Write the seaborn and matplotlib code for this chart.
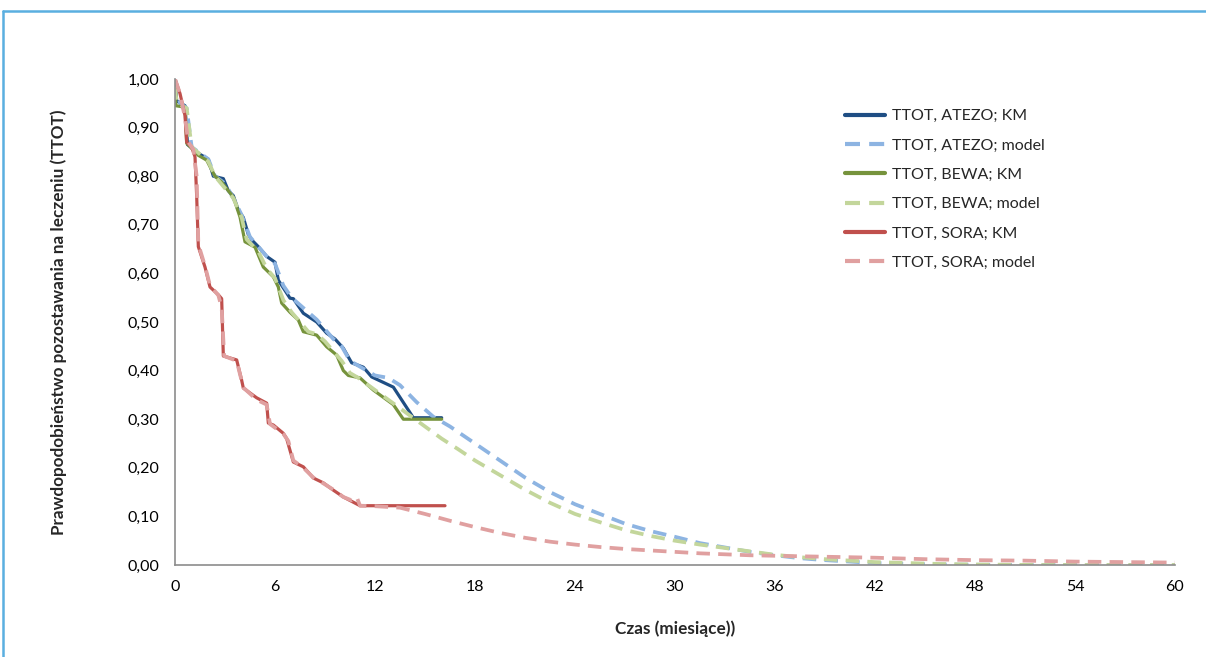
import matplotlib
matplotlib.use("Agg")
import matplotlib.pyplot as plt
from matplotlib.lines import Line2D
import seaborn as sns

# --- DATA ---
# months, probability of remaining on treatment

atezo_km_t = [0, 0.1, 0.6, 0.75, 1.5, 2.0, 2.3, 2.9, 3.2, 3.5, 3.8, 4.1, 4.4, 4.6, 5.0, 5.5,
              6.0, 6.2, 6.9, 7.1, 7.7, 8.5, 9.1, 9.6, 10.1, 10.6, 11.3, 11.8, 13.1, 13.5,
              14.3, 16.0]
atezo_km_s = [1.0, 0.955, 0.945, 0.865, 0.845, 0.835, 0.80, 0.795, 0.77, 0.76, 0.73, 0.715,
              0.68, 0.669, 0.655, 0.635, 0.623, 0.586, 0.549, 0.548, 0.518, 0.50, 0.477,
              0.465, 0.446, 0.416, 0.407, 0.387, 0.366, 0.345, 0.303, 0.303]

atezo_model_t = [0, 0.3, 0.7, 1.0, 2.0, 2.4, 3.0, 3.5, 4.0, 4.5, 5.0, 5.5, 6.0, 6.5, 7.0, 7.5,
                 8.0, 8.5, 9.0, 9.5, 10.0, 10.5, 11.0, 11.5, 12.0, 12.8, 13.5, 14.5, 15.5,
                 16.5, 18, 19.5, 21, 22.5, 24, 25.5, 27, 28.5, 30, 31.5, 33, 34.5, 36, 37.5,
                 39, 40.5, 42, 44, 46, 48, 52, 56, 60]
atezo_model_s = [1.0, 0.95, 0.94, 0.86, 0.835, 0.80, 0.785, 0.755, 0.72, 0.675, 0.655, 0.635,
                 0.62, 0.575, 0.55, 0.535, 0.52, 0.505, 0.485, 0.465, 0.45, 0.42, 0.41, 0.40,
                 0.39, 0.385, 0.37, 0.335, 0.305, 0.285, 0.25, 0.215, 0.18, 0.15, 0.125,
                 0.105, 0.085, 0.07, 0.058, 0.045, 0.036, 0.027, 0.02, 0.014, 0.01, 0.007,
                 0.004, 0.002, 0.001, 0.0005, 0.0, 0.0, 0.0]

bewa_km_t = [0, 0.05, 0.6, 0.7, 1.4, 1.9, 2.4, 2.8, 3.2, 3.5, 3.9, 4.2, 4.8, 5.3, 5.9, 6.2,
             6.4, 6.9, 7.4, 7.7, 8.5, 9.1, 9.7, 10.1, 10.4, 11.1, 11.9, 13.1, 13.7, 16.0]
bewa_km_s = [0.985, 0.945, 0.942, 0.868, 0.843, 0.833, 0.80, 0.788, 0.77, 0.757, 0.716,
             0.665, 0.654, 0.613, 0.593, 0.572, 0.539, 0.52, 0.504, 0.48, 0.473, 0.449,
             0.432, 0.40, 0.39, 0.385, 0.36, 0.33, 0.30, 0.30]

bewa_model_t = [0, 0.1, 0.7, 1.0, 2.0, 2.4, 3.0, 3.5, 4.0, 4.3, 5.0, 5.5, 6.0, 6.5, 7.0, 7.5,
                8.0, 8.5, 9.0, 9.5, 10.0, 10.5, 11.0, 12.0, 13.0, 14.0, 15.0, 16.0, 17.0,
                18.0, 19.5, 21, 22.5, 24, 25.5, 27, 28.5, 30, 31.5, 33, 34.5, 36, 37.5, 39,
                40.5, 42, 44, 46, 48, 52, 60]
bewa_model_s = [0.985, 0.95, 0.94, 0.86, 0.83, 0.80, 0.775, 0.755, 0.715, 0.67, 0.645, 0.61,
                0.59, 0.545, 0.52, 0.50, 0.48, 0.475, 0.46, 0.44, 0.42, 0.395, 0.385, 0.36,
                0.335, 0.31, 0.285, 0.26, 0.238, 0.215, 0.185, 0.155, 0.128, 0.105, 0.088,
                0.072, 0.06, 0.05, 0.042, 0.035, 0.028, 0.021, 0.016, 0.012, 0.009, 0.006,
                0.004, 0.002, 0.001, 0.0, 0.0]

sora_km_t = [0, 0.3, 0.6, 0.7, 1.0, 1.2, 1.3, 1.4, 1.8, 2.1, 2.6, 2.8, 2.9, 3.7, 4.0, 4.1,
             4.9, 5.5, 5.6, 5.9, 6.5, 6.7, 7.1, 7.7, 8.3, 8.9, 9.5, 10.1, 11.1, 16.2]
sora_km_s = [1.0, 0.97, 0.925, 0.87, 0.86, 0.84, 0.76, 0.655, 0.613, 0.572, 0.556, 0.548,
             0.43, 0.422, 0.38, 0.364, 0.344, 0.333, 0.292, 0.288, 0.271, 0.26, 0.212,
             0.202, 0.179, 0.169, 0.154, 0.14, 0.122, 0.122]

sora_model_t = [0, 0.3, 0.6, 0.8, 1.1, 1.3, 1.4, 1.8, 2.1, 2.6, 2.8, 2.95, 3.7, 4.1, 4.9, 5.5,
                5.7, 6.5, 6.8, 7.1, 7.7, 8.3, 8.9, 9.5, 10.1, 10.6, 10.9, 11.1, 12, 13.5, 15,
                16.5, 18, 19.5, 21, 22.5, 24, 25.5, 27, 28.5, 30, 31.5, 33, 34.5, 36, 39, 42,
                45, 48, 51, 54, 57, 60]
sora_model_s = [1.0, 0.97, 0.92, 0.87, 0.855, 0.80, 0.66, 0.615, 0.575, 0.555, 0.53, 0.43,
                0.42, 0.365, 0.34, 0.33, 0.29, 0.27, 0.255, 0.215, 0.20, 0.18, 0.168, 0.155,
                0.14, 0.133, 0.14, 0.122, 0.121, 0.118, 0.105, 0.091, 0.078, 0.066, 0.056,
                0.048, 0.042, 0.037, 0.033, 0.03, 0.027, 0.024, 0.022, 0.02, 0.019, 0.017,
                0.015, 0.012, 0.01, 0.009, 0.007, 0.006, 0.005]

labels = ["TTOT, ATEZO; KM", "TTOT, ATEZO; model",
          "TTOT, BEWA; KM", "TTOT, BEWA; model",
          "TTOT, SORA; KM", "TTOT, SORA; model"]
colors = ["#1F4E84", "#8DB4E2", "#76933C", "#C3D69B", "#C0504D", "#E0A0A0"]

xticks = [0, 6, 12, 18, 24, 30, 36, 42, 48, 54, 60]
yticks = [0.0, 0.1, 0.2, 0.3, 0.4, 0.5, 0.6, 0.7, 0.8, 0.9, 1.0]

# --- STYLE ---
sns.set_style("white")
plt.rcParams["font.family"] = ["Lato", "DejaVu Sans"]

fig = plt.figure(figsize=(12.06, 6.57), dpi=100)
ax = fig.add_axes([175 / 1206, 92 / 657, 1000 / 1206, 486 / 657])

series = [
    (atezo_km_t, atezo_km_s, False),
    (atezo_model_t, atezo_model_s, True),
    (bewa_km_t, bewa_km_s, False),
    (bewa_model_t, bewa_model_s, True),
    (sora_km_t, sora_km_s, False),
    (sora_model_t, sora_model_s, True),
]

for (t, s, dashed), lab, col in zip(series, labels, colors):
    sns.lineplot(x=t, y=s, ax=ax, color=col, estimator=None, sort=False,
                 linewidth=2.7 if dashed else 2.3, label=lab)
    line = ax.lines[-1]
    if dashed:
        line.set_dashes((3.6, 2.2))
        line.set_dash_capstyle("butt")
    line.set_solid_joinstyle("round")

ax.set_xlim(0, 60)
ax.set_ylim(0, 1.0)
ax.set_xticks(xticks)
ax.set_xticklabels([str(v) for v in xticks])
ax.set_yticks(yticks)
ax.set_yticklabels([f"{v:.2f}".replace(".", ",") for v in yticks])

for side in ["top", "right"]:
    ax.spines[side].set_visible(False)
for side in ["left", "bottom"]:
    ax.spines[side].set_color("#8C8C8C")
    ax.spines[side].set_linewidth(1.2)
ax.tick_params(axis="both", direction="out", length=5, width=1.2, color="#8C8C8C",
               labelsize=11.5, labelcolor="black", pad=6)

ax.set_xlabel("Czas (miesiące))", fontsize=12.3, fontweight="bold", labelpad=19)
ax.set_ylabel("Prawdopodobieństwo pozostawania na leczeniu (TTOT)", fontsize=12.3,
              fontweight="bold", labelpad=44)

leg = ax.legend(loc="upper left", bbox_to_anchor=(845 / 1206, 1 - 109 / 657),
                bbox_transform=fig.transFigure, frameon=False, fontsize=11.5,
                handlelength=2.5, handletextpad=0.45, labelspacing=0.95,
                borderpad=0, borderaxespad=0)
for h in leg.get_lines():
    h.set_linewidth(3.0)

# chart frame (only top and left visible in the reference)
fig.add_artist(Line2D([3.5 / 1206, 3.5 / 1206], [0, 1 - 11 / 657], transform=fig.transFigure,
                      color="#5AAFE0", linewidth=1.8))
fig.add_artist(Line2D([3.5 / 1206, 1], [1 - 11 / 657, 1 - 11 / 657], transform=fig.transFigure,
                      color="#5AAFE0", linewidth=1.8))

fig.savefig("out.png", dpi=100)
